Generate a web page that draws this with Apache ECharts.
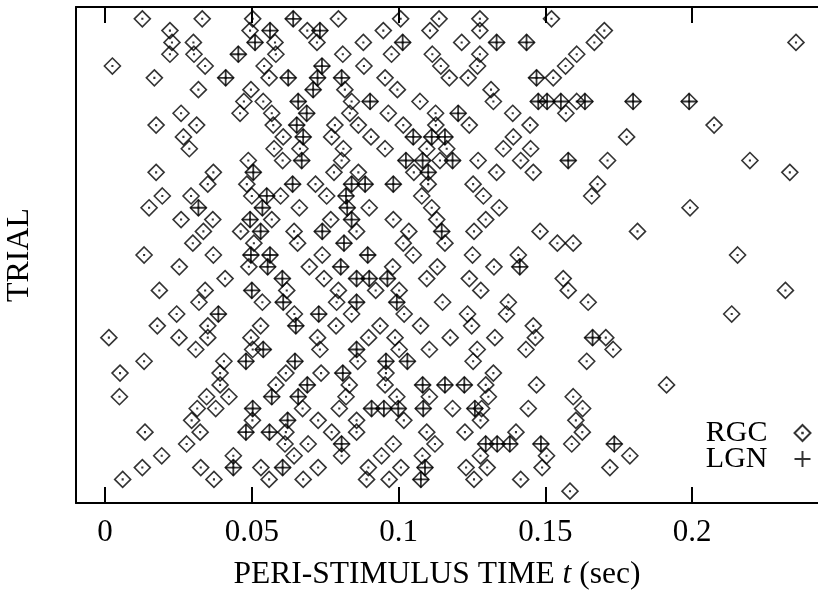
<!DOCTYPE html>
<html style="height: 100%">
<head>
<meta charset="utf-8">
</head>
<body style="height: 100%; margin: 0; background: #fff">
<div id="container" style="width: 818px; height: 590px"></div>
<script type="text/javascript" src="https://cdn.jsdelivr.net/npm/echarts@6/dist/echarts.min.js"></script>
<script type="text/javascript">
// spike times (sec), one list per trial, top trial first
var rgcTrials = [
  [0.0127,0.0331,0.0503,0.0641,0.0795,0.1007,0.1138,0.1277,0.1521],
  [0.0221,0.0494,0.0562,0.0689,0.0732,0.0948,0.1107,0.1277,0.1701],
  [0.0228,0.0301,0.0511,0.0579,0.0722,0.0880,0.1014,0.1215,0.1334,0.1436,0.1667,0.2354],
  [0.0221,0.0303,0.0454,0.0582,0.0810,0.0976,0.1115,0.1277,0.1607],
  [0.0025,0.0341,0.0542,0.0739,0.0882,0.1144,0.1269,0.1569],
  [0.0168,0.0411,0.0559,0.0624,0.0724,0.0806,0.0954,0.1173,0.1237,0.1470,0.1527],
  [0.0318,0.0497,0.0709,0.0817,0.0996,0.1315],
  [0.0473,0.0539,0.0658,0.0840,0.0903,0.1073,0.1323,0.1476,0.1506,0.1553,0.1607,0.1635,0.1799,0.1990],
  [0.0259,0.0460,0.0568,0.0687,0.0834,0.0965,0.1126,0.1203,0.1389,0.1570],
  [0.0174,0.0312,0.0573,0.0653,0.0783,0.0863,0.1016,0.1127,0.1241,0.1448,0.2075],
  [0.0267,0.0607,0.0675,0.0772,0.0906,0.1050,0.1113,0.1158,0.1391,0.1777],
  [0.0287,0.0576,0.0664,0.0812,0.0954,0.1096,0.1164,0.1357,0.1450],
  [0.0488,0.0605,0.0670,0.0806,0.1025,0.1082,0.1141,0.1184,0.1271,0.1416,0.1578,0.1712,0.2197],
  [0.0174,0.0369,0.0505,0.0780,0.0863,0.1052,0.1101,0.1334,0.1459,0.2333],
  [0.0350,0.0483,0.0639,0.0717,0.0840,0.0886,0.0982,0.1101,0.1254,0.1678],
  [0.0195,0.0293,0.0500,0.0551,0.0598,0.0755,0.0821,0.1079,0.1289,0.1658],
  [0.0150,0.0318,0.0536,0.0662,0.0825,0.0900,0.1113,0.1343,0.1993],
  [0.0259,0.0367,0.0494,0.0568,0.0769,0.0840,0.0982,0.1130,0.1297],
  [0.0335,0.0462,0.0530,0.0644,0.0740,0.0857,0.1035,0.1147,0.1257,0.1482,0.1814],
  [0.0299,0.0507,0.0656,0.0814,0.1016,0.1158,0.1541,0.1595],
  [0.0133,0.0369,0.0497,0.0562,0.0740,0.0895,0.1050,0.1252,0.1408,0.2155],
  [0.0253,0.0490,0.0554,0.0696,0.0803,0.0980,0.1132,0.1325,0.1413],
  [0.0409,0.0604,0.0746,0.0857,0.0900,0.0962,0.1096,0.1241,0.1561],
  [0.0185,0.0341,0.0500,0.0619,0.0795,0.0922,0.1002,0.1280,0.1578,0.2318],
  [0.0320,0.0536,0.0607,0.0789,0.0857,0.0994,0.1150,0.1374,0.1646],
  [0.0244,0.0386,0.0645,0.0728,0.0840,0.1019,0.1235,0.1368,0.2135],
  [0.0178,0.0350,0.0530,0.0650,0.0787,0.0937,0.1075,0.1249,0.1459],
  [0.0013,0.0252,0.0350,0.0497,0.0724,0.0898,0.0988,0.1176,0.1328,0.1466,0.1661,0.1706],
  [0.0309,0.0503,0.0539,0.0732,0.0857,0.1002,0.1105,0.1268,0.1434,0.1731],
  [0.0133,0.0405,0.0480,0.0647,0.0861,0.0957,0.1030,0.1254,0.1641],
  [0.0051,0.0392,0.0616,0.0736,0.0810,0.0957,0.1323],
  [0.0392,0.0582,0.0689,0.0832,0.0954,0.1082,0.1158,0.1224,0.1297,0.1470,0.1913],
  [0.0049,0.0346,0.0422,0.0568,0.0658,0.0821,0.0994,0.1105,0.1306,0.1595],
  [0.0314,0.0377,0.0503,0.0673,0.0798,0.0908,0.0950,0.0999,0.1084,0.1184,0.1260,0.1283,0.1442,0.1627],
  [0.0295,0.0502,0.0622,0.0726,0.0857,0.1018,0.1279,0.1604],
  [0.0136,0.0324,0.0480,0.0560,0.0616,0.0772,0.0857,0.1096,0.1226,0.1400,0.1626],
  [0.0278,0.0613,0.0692,0.0806,0.0982,0.1124,0.1297,0.1336,0.1379,0.1485,0.1590,0.1735],
  [0.0193,0.0437,0.0644,0.0806,0.0942,0.1081,0.1279,0.1504,0.1788],
  [0.0127,0.0326,0.0437,0.0531,0.0605,0.0726,0.0897,0.1008,0.1090,0.1230,0.1302,0.1489,0.1720],
  [0.0060,0.0371,0.0559,0.0675,0.0891,0.0968,0.1076,0.1257,0.1416],
  [0.1584]
];
var lgnTrials = [
  [0.0641],
  [0.0562,0.0732],
  [0.0511,0.1014,0.1334,0.1436],
  [0.0454],
  [0.0739],
  [0.0411,0.0624,0.0724,0.0806,0.1470],
  [0.0709],
  [0.0658,0.0903,0.1476,0.1506,0.1553,0.1635,0.1799,0.1990],
  [0.0687,0.1203],
  [0.0653],
  [0.0675,0.1050,0.1113,0.1158],
  [],
  [0.0670,0.1025,0.1082,0.1184,0.1578],
  [0.0505,0.1101],
  [0.0639,0.0840,0.0886,0.0982],
  [0.0551,0.0821],
  [0.0318,0.0536,0.0825],
  [0.0494,0.0840],
  [0.0530,0.0740,0.1147],
  [0.0814],
  [0.0497,0.0562,0.0895],
  [0.0554,0.0803,0.1413],
  [0.0604,0.0857,0.0900,0.0962],
  [0.0500],
  [0.0607,0.0857,0.0994],
  [0.0386,0.0728],
  [0.0650],
  [0.1661],
  [0.0539,0.0857],
  [0.0480,0.0647,0.0957,0.1030],
  [0.0810],
  [0.0689,0.1082,0.1158,0.1224],
  [0.0568,0.0658],
  [0.0503,0.0908,0.0950,0.0999,0.1084,0.1260],
  [0.0622],
  [0.0480,0.0560],
  [0.0806,0.1297,0.1336,0.1379,0.1485,0.1735],
  [],
  [0.0437,0.0605,0.1090],
  [0.1076],
  []
];
var tickValues = [0, 0.05, 0.1, 0.15, 0.2];

function toPoints(trials) {
  var res = [];
  trials.forEach(function (row, i) {
    row.forEach(function (t) { res.push([t, i + 1]); });
  });
  return res;
}

var font = 'Liberation Serif';
var diamond = 'path://M8,0L16,8L8,16L0,8Z M7.75,7.75L8.25,7.75L8.25,8.25L7.75,8.25Z';
var plus = 'path://M8,0L8,16M0,8L16,8';

var chart = echarts.init(document.getElementById('container'));

var option = {
  animation: false,
  backgroundColor: '#fff',
  grid: { left: 76, right: 0, top: 7, bottom: 87, outerBoundsMode: 'none', containLabel: false },
  legend: {
    orient: 'vertical',
    right: 0,
    top: 413,
    align: 'right',
    itemWidth: 16,
    itemHeight: 16,
    itemGap: -4,
    textStyle: { fontFamily: font, fontSize: 30, color: '#000', padding: [0, 22, 0, 0] },
    data: ['RGC', 'LGN']
  },
  xAxis: [{
    type: 'value',
    position: 'bottom',
    min: -0.0099,
    max: 0.2429,
    axisLine: { onZero: false, lineStyle: { color: '#000', width: 2 } },
    axisTick: { inside: true, length: 16, lineStyle: { color: '#000', width: 2 }, customValues: tickValues },
    axisLabel: { customValues: tickValues, margin: 14, fontFamily: font, fontSize: 31, color: '#000',
      formatter: function (v) { return String(v); } },
    splitLine: { show: false },
    name: '{a|PERI-STIMULUS TIME }{i|t}{a| (sec)}',
    nameLocation: 'middle',
    nameGap: 56,
    nameTextStyle: {
      padding: [0, 20, 0, 0],
      rich: {
        a: { fontFamily: font, fontSize: 31.5, color: '#000' },
        i: { fontFamily: font, fontSize: 31.5, color: '#000', fontStyle: 'italic' }
      }
    }
  }, {
    type: 'value',
    position: 'top',
    min: -0.0099,
    max: 0.2429,
    axisLine: { onZero: false, lineStyle: { color: '#000', width: 2 } },
    axisTick: { inside: true, length: 16, lineStyle: { color: '#000', width: 2 }, customValues: tickValues },
    axisLabel: { show: false },
    splitLine: { show: false }
  }],
  yAxis: {
    type: 'value',
    min: 0,
    max: 42,
    inverse: true,
    axisLine: { show: true, onZero: false, lineStyle: { color: '#000', width: 2 } },
    axisTick: { show: false },
    axisLabel: { show: false },
    splitLine: { show: false },
    name: 'TRIAL',
    nameLocation: 'middle',
    nameGap: 40,
    nameTextStyle: { fontFamily: font, fontSize: 32, color: '#000' }
  },
  series: [{
    name: 'RGC',
    type: 'scatter',
    symbol: diamond,
    symbolSize: 16,
    itemStyle: { color: 'none', borderColor: '#000', borderWidth: 1.6 },
    data: toPoints(rgcTrials)
  }, {
    name: 'LGN',
    type: 'scatter',
    symbol: plus,
    symbolSize: 16,
    itemStyle: { color: 'none', borderColor: '#000', borderWidth: 1.8 },
    data: toPoints(lgnTrials)
  }]
};

chart.setOption(option);
</script>
</body>
</html>
